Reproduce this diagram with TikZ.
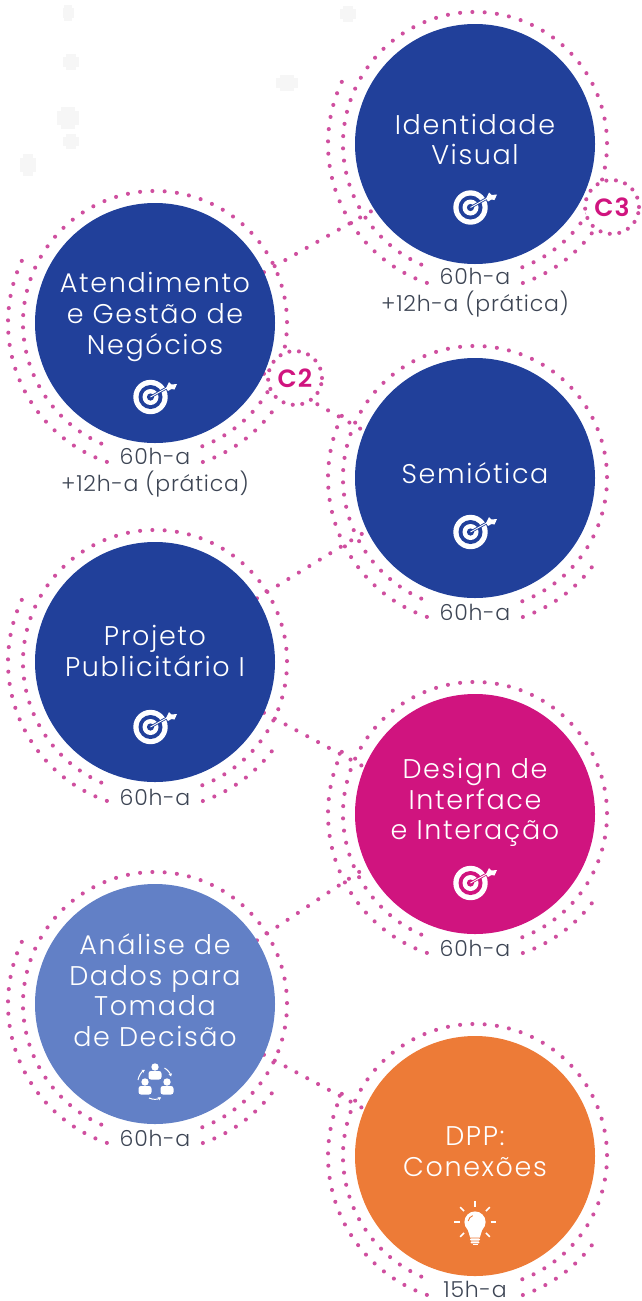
\documentclass[tikz,border=0pt]{standalone}
\usepackage{fontspec}
\setmainfont{Poppins Light}[LetterSpace=3.5]
\newfontfamily\titlefont{Poppins Light}[LetterSpace=6]
\newfontfamily\boldlbl{Poppins SemiBold}[LetterSpace=4]
\usetikzlibrary{backgrounds,arrows.meta}
\definecolor{navy}{HTML}{21409A}
\definecolor{mag}{HTML}{D0147F}
\definecolor{lightblue}{HTML}{6280C6}
\definecolor{orng}{HTML}{ED7B37}
\definecolor{dotpink}{HTML}{CF4F9F}
\definecolor{hourgrey}{HTML}{3D4554}
\definecolor{ghostgrey}{HTML}{F6F6F6}
\tikzset{
  x=1pt,y=1pt,
  bigdisc/.style={circle,draw=none,fill=#1,minimum size=240pt,inner sep=0pt},
  dotline/.style={draw=dotpink,line width=4.1pt,line cap=round,dash pattern=on 0pt off 12.3pt},
  title/.style={text=white,align=center,inner sep=0pt,font=\titlefont\fontsize{27}{30.6}\selectfont},
  hours/.style={text=hourgrey,align=center,inner sep=0pt,font=\fontsize{22}{27}\selectfont},
  ctag/.style={circle,draw=dotpink,fill=white,line width=4.1pt,line cap=round,dash pattern=on 0pt off 9.6pt,minimum size=54pt,inner sep=0pt,text=mag,font=\boldlbl\fontsize{25}{25}\selectfont},
  cyc/.style={white,line width=1pt,-{Stealth[length=3pt,width=3.5pt]}},
}
\newcommand{\dotrings}[1]{%
  \draw[dotline] (#1.center)++(291:132pt) arc[start angle=291,end angle=610.5,radius=132pt];
  \draw[dotline] (#1.center)++(155:147pt) arc[start angle=155,end angle=253,radius=147pt];
  \draw[dotline] (#1.center)++(-71:147pt) arc[start angle=-71,end angle=-37,radius=147pt];
}
\newcommand{\targeticon}[3]{%
  \begin{scope}[shift={(#1,#2)}]
    \fill[white] (0,0) circle (17.2);
    \fill[#3] (0,0) circle (12);
    \fill[white] (0,0) circle (8);
    \fill[#3] (0,0) circle (3.6);
    \draw[#3,line width=2.6pt] (0,0) -- (16,9);
    \draw[white,line width=0.9pt] (0,0) -- (17,9.5);
    \fill[white] (15.5,9) -- (18.5,15) -- (21,12.5) -- (26.5,13) -- (24,7.5) -- (21,8) -- (17.5,6) -- cycle;
  \end{scope}}
\newcommand{\ghostmark}[4]{%
  \fill[ghostgrey] (#1-#3/2,#2-0.3*#4) rectangle (#1+#3/2,#2+0.3*#4);
  \fill[ghostgrey] (#1-0.32*#3,#2-#4/2) rectangle (#1+0.32*#3,#2+#4/2);}
\newcommand{\person}[2]{%
  \fill[white] (#1,#2) circle (3.7);
  \fill[white,rounded corners=2.5pt] (#1-6.5,#2-12.5) rectangle (#1+6.5,#2-4);}
\begin{document}
\begin{tikzpicture}
\useasboundingbox (0,0) rectangle (641,-1301);
% discs
\node[bigdisc=navy] (idv) at (475,-144) {};
\node[bigdisc=navy] (age) at (155,-323) {};
\node[bigdisc=navy] (sem) at (475,-478) {};
\node[bigdisc=navy] (pro) at (155,-662) {};
\node[bigdisc=mag] (dii) at (475,-814) {};
\node[bigdisc=lightblue] (ada) at (155,-1004) {};
\node[bigdisc=orng] (dpp) at (475,-1156) {};
% tags
\node[ctag] (c3) at (612,-207) {C3};
\node[ctag] (c2) at (295,-378) {C2};
% titles
\node[title] (t1) at (475,-139.5) {Identidade\\Visual};
\node[title] (t2) at (155,-317) {Atendimento\\e Gestão de\\Negócios};
\node[title] (t3) at (475,-473) {Semiótica};
\node[title] (t4) at (155,-651) {Projeto\\Publicitário I};
\node[title] (t5) at (475,-802.5) {Design de\\Interface\\e Interação};
\node[title] (t6) at (155,-990) {Análise de\\Dados para\\Tomada\\de Decisão};
\node[title] (t7) at (475,-1151.5) {DPP:\\Conexões};
% hours
\node[hours] (h1) at (475,-293) {60h-a\\+12h-a (prática)};
\node[hours] (h2) at (155,-473) {60h-a\\+12h-a (prática)};
\node[hours] (h3) at (475,-612) {60h-a};
\node[hours] (h4) at (155,-797) {60h-a};
\node[hours] (h5) at (475,-948) {60h-a};
\node[hours] (h6) at (155,-1138) {60h-a};
\node[hours] (h7) at (475,-1289) {15h-a};
% icons
\targeticon{470.5}{-207.5}{navy}
\targeticon{150.5}{-397}{navy}
\targeticon{470.5}{-532}{navy}
\targeticon{150.5}{-727}{navy}
\targeticon{470.5}{-883}{mag}
% people icon
\person{155}{-1067}
\person{145}{-1082}
\person{167}{-1082}
\draw[cyc] (138,-1080) arc[start angle=170,end angle=122,radius=15];
\draw[cyc] (164.5,-1068) arc[start angle=60,end angle=15,radius=14];
\draw[cyc] (149,-1098) arc[start angle=245,end angle=300,radius=13];
% bulb
\begin{scope}[shift={(475,-1222)}]
  \fill[white] (0,0) circle (10.6);
  \fill[white] (-7.5,-7) -- (-4.8,-15.5) -- (4.8,-15.5) -- (7.5,-7) -- cycle;
  \fill[white,rounded corners=1pt] (-5,-18.6) rectangle (5,-16.4);
  \fill[white,rounded corners=1pt] (-4.5,-21.4) rectangle (4.5,-19.4);
  \fill[white] (-2.5,-23.4) rectangle (2.5,-22);
  \draw[orng,line width=0.9pt] (-6.8,1) arc[start angle=170,end angle=110,radius=7];
  \foreach \a in {0,45,90,135,180,-45,225}{
    \draw[white,line width=1.5pt] (\a:15.5) -- (\a:21);
  }
\end{scope}
\begin{scope}[on background layer]
  \ghostmark{68}{-13}{11}{16}
  \ghostmark{71}{-62}{16}{16}
  \ghostmark{68}{-118}{22}{22}
  \ghostmark{71}{-141}{16}{15}
  \ghostmark{28}{-165}{16}{22}
  \ghostmark{348}{-14}{16}{16}
  \ghostmark{287}{-83}{22}{16}
  \dotrings{idv}
  \dotrings{age}
  \dotrings{sem}
  \dotrings{pro}
  \dotrings{dii}
  \dotrings{ada}
  \dotrings{dpp}
  \draw[dotline] (age.25) -- (idv.213);
  \draw[dotline] (age.-25) -- (sem.157);
  \draw[dotline] (pro.32) -- (sem.206);
  \draw[dotline] (pro.-25) -- (dii.157);
  \draw[dotline] (ada.32) -- (dii.206);
  \draw[dotline] (ada.-25) -- (dpp.157);
\end{scope}
\end{tikzpicture}
\end{document}
